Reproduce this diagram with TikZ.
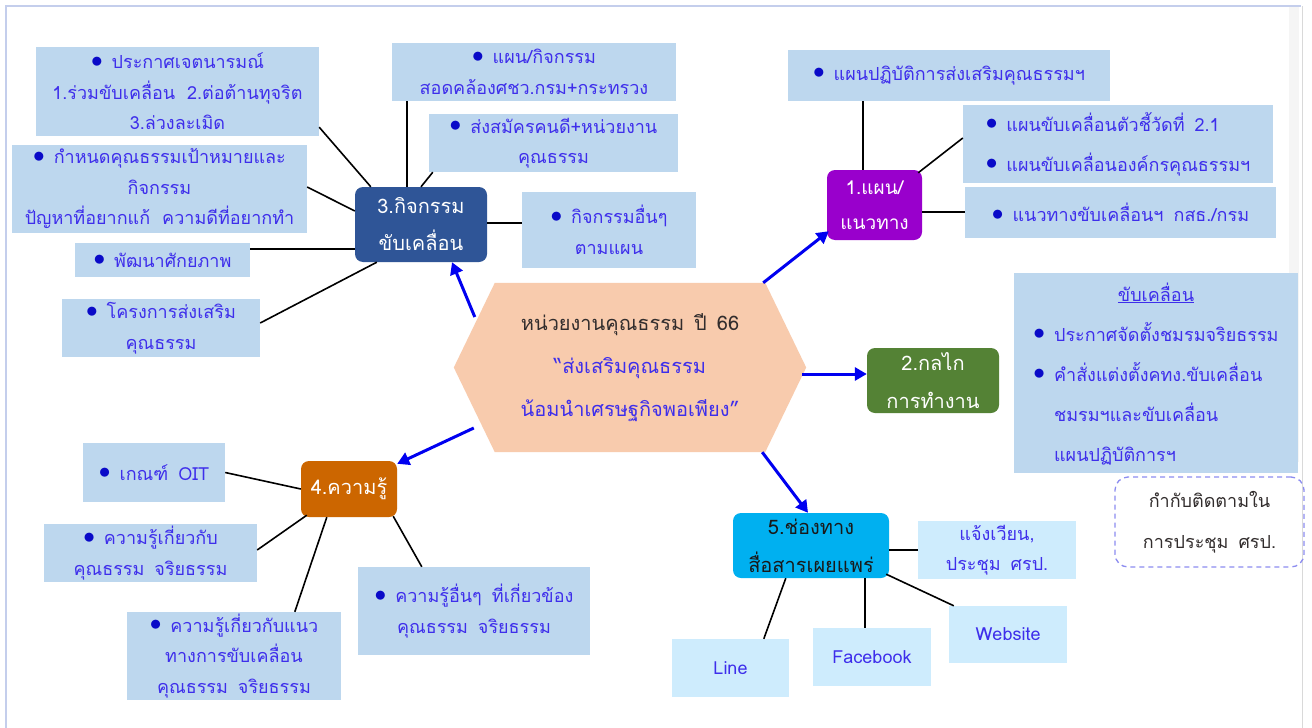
\documentclass[tikz,border=0pt]{standalone}
\usepackage{fontspec}
\newfontfamily\thaifont[Script=Thai]{Loma}
\usetikzlibrary{arrows.meta,backgrounds,calc}
\definecolor{tblue}{RGB}{62,46,235}
\definecolor{bulblue}{RGB}{10,10,200}
\definecolor{darkt}{RGB}{50,45,45}
\definecolor{lbfill}{RGB}{189,215,238}
\definecolor{llfill}{RGB}{206,236,253}
\definecolor{peach}{RGB}{248,203,173}
\definecolor{cpurple}{RGB}{153,0,204}
\definecolor{cgreen}{RGB}{84,130,53}
\definecolor{cnavy}{RGB}{47,85,151}
\definecolor{corange}{RGB}{204,102,0}
\definecolor{ccyan}{RGB}{0,176,240}
\definecolor{arrowblue}{RGB}{0,0,240}
\definecolor{dashc}{RGB}{140,140,240}
\definecolor{framec}{RGB}{196,206,236}
\newcommand{\bul}{\textcolor{bulblue}{\raisebox{1.5pt}{\scalebox{1.35}{$\bullet$}}}\hspace{9pt}}
\newcommand{\bsp}{\hphantom{\scalebox{1.35}{$\bullet$}\hspace{9pt}}}
\begin{document}
\begin{tikzpicture}[x=1pt,y=-1pt,
  every node/.style={font=\thaifont\fontsize{18}{30.5}\selectfont, inner sep=0pt},
  lbox/.style={fill=lbfill, text=tblue, align=center},
  llbox/.style={fill=llfill, text=tblue, align=center},
  hub/.style={rounded corners=8pt, text=white, align=center, font=\thaifont\fontsize{20}{37}\selectfont},
  link/.style={draw=black, line width=1.6pt},
  flow/.style={draw=arrowblue, line width=3pt, -{Triangle[length=12pt,width=13pt]}},
]
\useasboundingbox (0,0) rectangle (1312,728);

% central hexagon
\node[text=tblue, align=center, minimum width=352pt, minimum height=169pt,
  font=\thaifont\fontsize{20}{43}\selectfont] (hex) at (630,367.5)
  {\textcolor{darkt}{หน่วยงานคุณธรรม\hspace{10pt}ปี\hspace{10pt}66}\\ “ส่งเสริมคุณธรรม\\ น้อมนำเศรษฐกิจพอเพียง”};
\begin{scope}[on background layer]
\fill[white] (0,0) rectangle (1312,728);
\fill[gray!8] (1289,7) rectangle (1299,462);
\draw[framec, line width=1.5pt] (6,735) -- (6,6) -- (1301,6);
\draw[gray!30, line width=0.8pt] (1302,6) -- (1302,735);
\fill[peach] (hex.west) -- ($(hex.north west)+(41,0)$) -- ($(hex.north east)+(-41,0)$)
  -- (hex.east) -- ($(hex.south east)+(-41,0)$) -- ($(hex.south west)+(41,0)$) -- cycle;
\end{scope}

% 3 activities
\node[hub, fill=cnavy, minimum width=132pt, minimum height=75pt] (n3) at (421,224.5) {3.กิจกรรม\\ ขับเคลื่อน};
\node[lbox, minimum width=283pt, minimum height=89pt] (p3a) at (177.5,91.5)
  {\bul ประกาศเจตนารมณ์\\ 1.ร่วมขับเคลื่อน\hspace{12pt}2.ต่อต้านทุจริต\\ 3.ล่วงละเมิด};
\node[lbox, minimum width=295pt, minimum height=88pt] (p3b) at (159.5,189)
  {\bul กำหนดคุณธรรมเป้าหมายและ\\ กิจกรรม\\ ปัญหาที่อยากแก้\hspace{12pt}ความดีที่อยากทำ};
\node[lbox, minimum width=175pt, minimum height=34pt] (p3c) at (162.5,260) {\bul พัฒนาศักยภาพ};
\node[lbox, minimum width=198pt, minimum height=58pt] (p3d) at (161,328) {\bul โครงการส่งเสริม\\ คุณธรรม};
\node[lbox, minimum width=284pt, minimum height=58pt] (p3e) at (534,72) {\bul แผน/กิจกรรม\\ สอดคล้องศชว.กรม+กระทรวง};
\node[lbox, minimum width=249pt, minimum height=58pt] (p3f) at (553.5,143) {\bul ส่งสมัครคนดี+หน่วยงาน\\ คุณธรรม};
\node[lbox, minimum width=174pt, minimum height=76pt] (p3g) at (609,230) {\bul กิจกรรมอื่นๆ\\ ตามแผน};

% 1 plan
\node[hub, fill=cpurple, minimum width=95pt, minimum height=70pt, font=\thaifont\fontsize{19}{35}\selectfont] (n1) at (874.5,205) {1.แผน/\\ แนวทาง};
\node[lbox, minimum width=322pt, minimum height=51pt] (p1a) at (949,75.5) {\bul แผนปฏิบัติการส่งเสริมคุณธรรมฯ};
\node[lbox, align=left, minimum width=310pt, minimum height=78pt, font=\thaifont\fontsize{18}{40}\selectfont] (p1b) at (1118,144)
  {\bul แผนขับเคลื่อนตัวชี้วัดที่\hspace{10pt}2.1\\ \bul แผนขับเคลื่อนองค์กรคุณธรรมฯ};
\node[lbox, minimum width=311pt, minimum height=51pt] (p1c) at (1120.5,212.5) {\bul แนวทางขับเคลื่อนฯ\hspace{10pt}กสธ./กรม};

% 2 mechanism
\node[hub, fill=cgreen, minimum width=132pt, minimum height=65pt, font=\thaifont\fontsize{20}{38}\selectfont] (n2) at (933,380.5) {2.กลไก\\ การทำงาน};
\node[lbox, minimum width=284pt, minimum height=180pt, font=\thaifont\fontsize{18}{40}\selectfont] (p2) at (1156,373)
  {\begin{tabular}{@{}l@{}}\multicolumn{1}{c}{\underline{ขับเคลื่อน}}\\
   \bul ประกาศจัดตั้งชมรมจริยธรรม\\ \bul คำสั่งแต่งตั้งคทง.ขับเคลื่อน\\ \bsp ชมรมฯและขับเคลื่อน\\ \bsp แผนปฏิบัติการฯ\end{tabular}};
\node[draw=dashc, dashed, dash pattern=on 5pt off 4pt, line width=1.3pt, rounded corners=13pt, text=darkt, align=center,
  minimum width=189pt, minimum height=90pt, font=\thaifont\fontsize{18}{41}\selectfont] (mon) at (1209.5,522)
  {กำกับติดตามใน\\ การประชุม\hspace{10pt}ศรป.};

% 5 channels
\node[hub, fill=ccyan, text=black!90, minimum width=156pt, minimum height=65pt, font=\thaifont\fontsize{20}{38}\selectfont] (n5) at (811,545.5) {5.ช่องทาง\\ สื่อสารเผยแพร่};
\node[llbox, minimum width=158pt, minimum height=58pt] (p5a) at (997,550) {แจ้งเวียน,\\ ประชุม\hspace{10pt}ศรป.};
\node[llbox, minimum width=117pt, minimum height=58pt] (p5b) at (730.5,668) {Line};
\node[llbox, minimum width=118pt, minimum height=58pt] (p5c) at (872,657) {Facebook};
\node[llbox, minimum width=118pt, minimum height=57pt] (p5d) at (1008,634.5) {Website};

% 4 knowledge
\node[hub, fill=corange, minimum width=96pt, minimum height=56pt] (n4) at (349,489) {4.ความรู้};
\node[lbox, minimum width=142pt, minimum height=59pt] (p4a) at (154,472.5) {\bul เกณฑ์\hspace{10pt}OIT};
\node[lbox, minimum width=213pt, minimum height=58pt] (p4b) at (150.5,553) {\bul ความรู้เกี่ยวกับ\\ คุณธรรม\hspace{10pt}จริยธรรม};
\node[lbox, minimum width=214pt, minimum height=88pt] (p4c) at (234,656) {\bul ความรู้เกี่ยวกับแนว\\ ทางการขับเคลื่อน\\ คุณธรรม\hspace{10pt}จริยธรรม};
\node[lbox, minimum width=232pt, minimum height=88pt] (p4d) at (474,611) {\bul ความรู้อื่นๆ\hspace{10pt}ที่เกี่ยวข้อง\\ คุณธรรม\hspace{10pt}จริยธรรม};

% links of 3
\draw[link] ($(p3a.south east)+(0,-9)$) -- ($(n3.north west)+(16,0)$);
\draw[link] ($(p3b.east)+(0,-2)$) -- ($(n3.west)+(0,-13.5)$);
\draw[link] ($(n3.west)+(0,24.5)$) -- ($(p3c.east)+(0,-11)$);
\draw[link] ($(p3d.east)+(0,-5)$) -- ($(n3.south west)+(22,0)$);
\draw[link] ($(p3e.south west)+(15,0)$) -- ($(n3.north west)+(52,0)$);
\draw[link] ($(p3f.south west)+(4,0)$) -- (n3.north);
\draw[link, line width=1.2pt] ($(n3.east)+(0,-1.5)$) coordinate (a3) -- (a3 -| p3g.west);
% links of 1
\draw[link] ($(n1.north)+(-11.5,0)$) coordinate (a1) -- (a1 |- p1a.south);
\draw[link] ($(n1.north east)+(-4,3)$) -- ($(p1b.west)+(0,-6)$);
\draw[link] ($(n1.east)+(0,7)$) coordinate (b1) -- (b1 -| p1c.west);
% links of 5
\draw[link] (p5a.west -| n5.east) -- (p5a.west);
\draw[link] ($(n5.south west)+(53,0)$) -- ($(p5b.north west)+(92,0)$);
\draw[link] ($(n5.south west)+(132,0)$) -- ($(p5c.north west)+(52,0)$);
\draw[link] ($(n5.south east)+(-3,-4)$) -- ($(p5d.north west)+(5,0)$);
% links of 4
\draw[link] (p4a.east) -- (n4.west);
\draw[link] ($(p4b.east)+(0,-3)$) -- ($(n4.south west)+(6,-2)$);
\draw[link] ($(p4c.north west)+(168,0)$) -- ($(n4.south west)+(26,0)$);
\draw[link] ($(n4.south east)+(-4,-1)$) -- ($(p4d.north west)+(64,0)$);

% blue arrows from the hub
\draw[flow] ($(hex.north east)+(-43,0)$) -- ($(n1.south west)+(2,-9)$);
\draw[flow] ($(hex.east)+(-4,6.5)$) -- ($(n2.west)+(0,-6.5)$);
\draw[flow] ($(hex.south east)+(-44,0)$) -- ($(n5.north)+(-3,0)$);
\draw[flow] ($(hex.west)+(20,60.5)$) -- ($(n4.north east)+(0,3)$);
\draw[flow] ($(hex.west)+(21,-50.5)$) -- ($(n3.south)+(31,0)$);
\end{tikzpicture}
\end{document}
